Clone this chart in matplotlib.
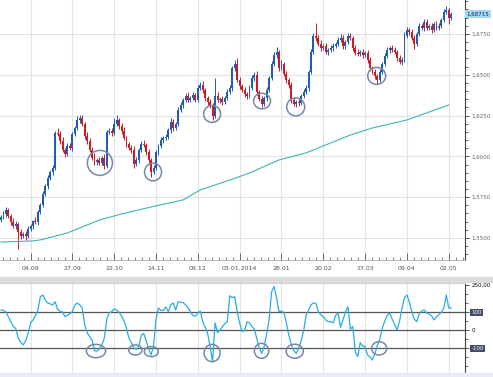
"""GBP/USD daily candles with a long moving average and CCI below."""

import matplotlib.pyplot as plt
import numpy as np
from matplotlib.patches import Ellipse, Rectangle
from matplotlib.ticker import FixedLocator, FuncFormatter, MultipleLocator


# prices are stored x 10000
first_open = 15610
closes_pips = [
    15629, 15647, 15672, 15635, 15598, 15574, 15586, 15537, 15512, 15525,
    15512, 15555, 15574, 15604, 15598, 15659, 15702, 15770, 15819, 15868,
    15904, 15929, 16143, 16137, 16094, 16039, 16015, 16064, 16051, 16137,
    16174, 16223, 16235, 16198, 16125, 16094, 16039, 15990, 15966, 15978,
    15960, 15990, 15941, 16149, 16156, 16143, 16198, 16223, 16186, 16156,
    16113, 16076, 16051, 16039, 15953, 15978, 16039, 16076, 16070, 16027,
    15978, 15904, 15929, 16027, 16064, 16100, 16113, 16120, 16162, 16211,
    16174, 16198, 16284, 16315, 16346, 16370, 16346, 16358, 16376, 16346,
    16419, 16437, 16407, 16358, 16333, 16309, 16248, 16370, 16346, 16352,
    16333, 16358, 16395, 16419, 16542, 16566, 16468, 16431, 16407, 16382,
    16370, 16419, 16480, 16499, 16395, 16352, 16321, 16358, 16407, 16480,
    16566, 16621, 16640, 16542, 16566, 16505, 16468, 16437, 16346, 16321,
    16333, 16327, 16370, 16395, 16419, 16517, 16640, 16738, 16725, 16689,
    16664, 16676, 16640, 16652, 16664, 16676, 16689, 16713, 16725, 16676,
    16701, 16738, 16725, 16664, 16634, 16627, 16640, 16621, 16634, 16591,
    16542, 16517, 16493, 16468, 16517, 16566, 16615, 16652, 16664, 16652,
    16640, 16603, 16578, 16591, 16738, 16774, 16762, 16725, 16689, 16750,
    16799, 16787, 16823, 16787, 16799, 16774, 16811, 16787, 16799, 16836,
    16885, 16897, 16848, 16872,
]
# wick lengths beyond the body, in pips
up_wick = [
    12, 18, 20, 10, 14, 22, 16, 12, 18, 10, 15, 20, 12, 8, 25, 14, 10, 18, 12, 16,
    14, 20, 15, 30, 18, 22, 12, 16, 20, 10, 14, 26, 20, 18, 12, 24, 16, 20, 28, 14,
    18, 12, 22, 14, 20, 16, 34, 31, 12, 16, 22, 14, 10, 18, 24, 16, 12, 20, 26, 14,
    18, 12, 16, 10, 14, 20, 12, 18, 14, 22, 16, 12, 18, 20, 14, 16, 24, 12, 18, 14,
    16, 20, 26, 14, 12, 18, 16, 110, 22, 14, 18, 12, 16, 20, 14, 22, 37, 18, 12, 16,
    14, 20, 16, 18, 22, 12, 16, 14, 18, 12, 16, 20, 28, 14, 22, 12, 18, 14, 20, 16,
    12, 18, 14, 20, 16, 12, 18, 20, 79, 16, 22, 14, 18, 12, 16, 20, 14, 18, 22, 16,
    12, 18, 20, 14, 16, 22, 12, 18, 14, 16, 20, 12, 18, 14, 16, 12, 20, 18, 14, 16,
    18, 12, 16, 20, 22, 18, 14, 20, 16, 12, 18, 14, 20, 16, 12, 18, 14, 16, 20, 12,
    18, 26, 14, 10,
]
down_wick = [
    14, 10, 16, 12, 20, 14, 18, 104, 16, 12, 22, 14, 10, 18, 12, 16, 10, 14, 12, 18,
    10, 16, 12, 14, 20, 12, 18, 14, 10, 16, 12, 14, 18, 10, 16, 20, 14, 12, 18, 22,
    16, 12, 20, 14, 10, 18, 12, 14, 20, 16, 12, 18, 14, 20, 26, 12, 16, 10, 14, 18,
    22, 30, 14, 12, 16, 10, 18, 14, 12, 20, 16, 10, 14, 12, 18, 16, 12, 14, 10, 16,
    12, 14, 18, 16, 20, 12, 26, 14, 12, 18, 16, 10, 14, 12, 16, 18, 14, 20, 12, 16,
    18, 12, 14, 16, 20, 14, 18, 12, 16, 10, 14, 12, 16, 18, 12, 14, 16, 20, 22, 14,
    16, 18, 12, 14, 10, 16, 12, 14, 18, 12, 16, 14, 10, 18, 12, 16, 14, 12, 10, 18,
    16, 12, 14, 18, 16, 12, 14, 20, 12, 16, 18, 14, 16, 22, 12, 14, 10, 12, 16, 14,
    12, 16, 14, 18, 10, 12, 16, 14, 30, 12, 14, 10, 16, 12, 14, 18, 12, 10, 14, 12,
    10, 12, 34, 12,
]
cci = [
    111, 109, 100, 72, 45, 20, 8, -44, -68, -83,
    -60, -20, 39, 56, 80, 110, 185, 194, 167, 150,
    145, 139, 157, 115, 105, 100, 74, 82, 90, 102,
    139, 150, 140, 122, 30, -15, -35, -56, -115, -118,
    -105, -83, -45, 60, 96, 102, 118, 110, 98, 78,
    50, 10, -45, -70, -100, -108, -93, -30, -19, -60,
    -105, -139, -90, 60, 122, 108, 110, 128, 102, 140,
    150, 111, 157, 155, 152, 140, 125, 100, 80, 76,
    95, 105, 45, 15, -20, -93, -176, 39, -15, 0,
    19, 35, 46, 190, 180, 185, 100, 40, -9, -3,
    45, 40, 19, 5, -50, -100, -130, -90, -20, 60,
    213, 241, 180, 102, 105, 95, 39, -30, -80, -115,
    -130, -100, -60, -5, 80, 110, 140, 150, 148, 100,
    85, 74, 55, 46, 46, 39, 80, 94, 15, 56,
    100, 130, 5, 19, -120, -148, -70, -90, -93, -139,
    -150, -167, -130, -85, -50, 10, 50, 83, 94, 60,
    30, 0, 50, 120, 180, 194, 155, 100, 60, 46,
    90, 105, 111, 95, 88, 80, 56, 72, 85, 98,
    122, 194, 122, 122,
]
ma_bars = [0, 13, 16, 27, 40, 49, 61, 74, 81, 93, 101, 113, 124, 142, 151, 165, 182]
ma_pips = [15475, 15482, 15488, 15531, 15610, 15647, 15690, 15733, 15794, 15855,
           15898, 15978, 16021, 16131, 16174, 16223, 16315]
date_labels = ["04.09", "27.09", "22.10", "14.11", "09.12", "03.01.2014",
               "28.01", "20.02", "17.03", "09.04", "02.05"]
label_bars = [12, 29, 46, 63, 80, 97, 114, 131, 148, 165, 182]
last_price = 1.68715

# hand drawn circles: (bar, level, width in bars, height)
price_marks = [(40.2, 1.5960, 10.2, 0.0153), (61.8, 1.5904, 6.9, 0.0108),
               (85.8, 1.6260, 6.9, 0.0104), (106.1, 1.6339, 6.9, 0.0095),
               (119.8, 1.6303, 7.3, 0.0110), (152.7, 1.6493, 7.3, 0.0104)]
cci_marks = [(38.6, -117, 7.8, 74), (54.6, -111, 5.4, 56), (61.1, -120, 5.7, 56),
             (85.8, -128, 6.5, 96), (105.9, -116, 5.8, 83), (119.4, -118, 7.0, 78),
             (153.7, -102, 6.1, 74)]

BLUE = "#1f5cb8"
RED = "#cc1b24"
MARK = "#7587ab"
GRID = "#e3e3e3"


def comma_fmt(v, _):
    return f"{v:.4f}".replace(".", ",")


if __name__ == "__main__":
    closes = np.array(closes_pips) / 1e4
    opens = np.concatenate([[first_open / 1e4], closes[:-1]])
    highs = np.maximum(opens, closes) + np.array(up_wick) / 1e4
    lows = np.minimum(opens, closes) - np.array(down_wick) / 1e4
    x = np.arange(len(closes))
    colors = np.where(closes >= opens, BLUE, RED)

    fig = plt.figure(figsize=(4.93, 3.77), dpi=100)
    W, H = 493, 377
    ax = fig.add_axes([0, 1 - 260 / H, 465 / W, 260 / H])
    ax2 = fig.add_axes([0, 4 / H, 465 / W, 90 / H])

    # separator bands
    fig.patches.append(Rectangle((0, 1 - 282 / H), 1, 5 / H, transform=fig.transFigure,
                                 color="#dcdcdc", zorder=0))
    fig.patches.append(Rectangle((0, 0), 1, 4 / H, transform=fig.transFigure,
                                 color="#e8ecf2", zorder=0))

    xlim = (-0.41, 188.6)

    # --- price panel
    ax.vlines(x, lows, highs, colors=colors, lw=0.7, zorder=2)
    body = np.maximum(np.abs(closes - opens), 0.0003)
    ax.bar(x, body, bottom=np.minimum(opens, closes), width=0.78, color=colors,
           linewidth=0, zorder=3)
    ax.plot(ma_bars, np.array(ma_pips) / 1e4, color="#3fb5b3", lw=0.8, zorder=2)
    for bx, by, bw, bh in price_marks:
        ax.add_patch(Ellipse((bx, by), bw, bh, fill=False, ec=MARK, lw=1.1, zorder=4))

    ax.set_xlim(*xlim)
    ax.set_ylim(1.5365, 1.6958)
    ax.yaxis.tick_right()
    ax.set_yticks([1.55, 1.575, 1.6, 1.625, 1.65, 1.675])
    ax.yaxis.set_major_formatter(FuncFormatter(comma_fmt))
    ax.yaxis.set_minor_locator(MultipleLocator(0.005))
    ax.tick_params(axis="y", which="major", direction="out", length=3, width=0.6,
                   color="#333", labelsize=4, labelcolor="#666", pad=1.5)
    ax.tick_params(axis="y", which="minor", direction="out", length=2, width=0.5,
                   color="#333")
    ax.set_xticks(label_bars, date_labels)
    ax.xaxis.set_minor_locator(FixedLocator(np.arange(12 - 17, 189, 17 / 6)))
    ax.tick_params(axis="x", which="major", direction="in", length=5, width=0.6,
                   color="#555", labelsize=4.5, labelcolor="#555", pad=4.5)
    ax.tick_params(axis="x", which="minor", direction="in", length=2.5, width=0.5,
                   color="#555")
    ax.grid(True, which="major", color=GRID, lw=0.8)
    ax.set_axisbelow(True)
    for s in ("left", "top"):
        ax.spines[s].set_visible(False)
    ax.spines["right"].set_color("#444")
    ax.spines["right"].set_linewidth(0.8)
    ax.spines["bottom"].set_color("#aaa")
    ax.spines["bottom"].set_linewidth(0.6)

    ax.text(1.003, last_price, "1,68715", transform=ax.get_yaxis_transform(),
            ha="left", va="center", fontsize=4, color="#1a3050", clip_on=False,
            bbox=dict(boxstyle="square,pad=0.25", fc="#9fd9f5", ec="none"), zorder=5)

    # --- CCI panel
    ax2.plot(x, cci, color="#29aee3", lw=0.9, zorder=3)
    for lvl in (100, 0, -100):
        ax2.axhline(lvl, color="#555", lw=0.9, zorder=2)
    for bx, by, bw, bh in cci_marks:
        ax2.add_patch(Ellipse((bx, by), bw, bh, fill=False, ec=MARK, lw=1.1, zorder=4))

    ax2.set_xlim(*xlim)
    ax2.set_ylim(-239, 261)
    ax2.yaxis.tick_right()
    ax2.set_yticks([250, 100, 0, -100], ["250,00", "100", "0", "-100"])
    for lbl in ax2.get_yticklabels():
        if lbl.get_text() in ("100", "-100"):
            lbl.set_color("white")
            lbl.set_bbox(dict(boxstyle="square,pad=0.2", fc="#454c6a", ec="none"))
    ax2.yaxis.set_minor_locator(MultipleLocator(50))
    ax2.tick_params(axis="y", which="major", direction="out", length=3, width=0.6,
                    color="#333", labelsize=4, pad=1.5)
    ax2.tick_params(axis="y", which="minor", direction="out", length=2, width=0.5,
                    color="#333")
    ax2.set_xticks(label_bars)
    ax2.tick_params(axis="x", length=0, labelbottom=False)
    ax2.grid(True, axis="x", color=GRID, lw=0.8)
    ax2.set_axisbelow(True)
    ax2.spines["left"].set_visible(False)
    ax2.spines["top"].set_color("#ccc")
    ax2.spines["bottom"].set_color("#ccc")
    ax2.spines["right"].set_color("#444")
    ax2.spines["right"].set_linewidth(0.8)

    plt.savefig("out.png", dpi=100)
